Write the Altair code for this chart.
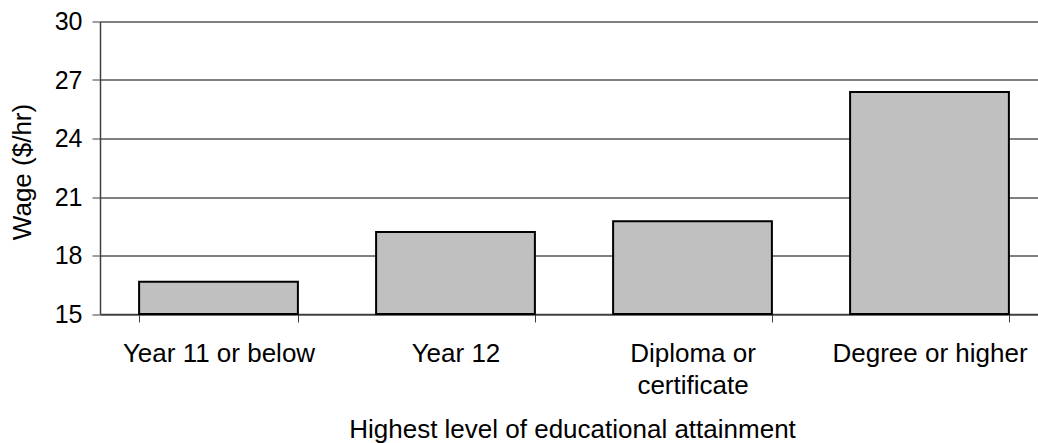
import altair as alt
import pandas as pd

categories = ["Year 11 or below", "Year 12", "Diploma or certificate", "Degree or higher"]
wages = [16.65, 19.21, 19.76, 26.38]
y_ticks = [15, 18, 21, 24, 27, 30]

df = pd.DataFrame({"cat": categories, "wage": wages})

FONT = "Liberation Sans"

bars = alt.Chart(df).mark_bar(fill="#c0c0c0", stroke="black", strokeWidth=2).encode(
    x=alt.X(
        "cat:N",
        sort=categories,
        scale=alt.Scale(range=[0, 948], paddingInner=0.33, paddingOuter=0.165),
        axis=alt.Axis(
            title="Highest level of educational attainment",
            labelAngle=0,
            tickBand="extent",
            labelExpr="datum.label == 'Diploma or certificate' ? ['Diploma or', 'certificate'] : datum.label",
            labelFontSize=26,
            labelLineHeight=32,
            labelPadding=18,
            labelLimit=0,
            labelColor="black",
            labelFont=FONT,
            tickSize=8,
            tickColor="#404040",
            domainColor="#404040",
            domainWidth=1.5,
            titleFontSize=26,
            titleFont=FONT,
            titleFontWeight="normal",
            titleColor="black",
            titleX=472,
            titleY=115,
            titleBaseline="middle",
            grid=False,
        ),
    ),
    y=alt.Y(
        "wage:Q",
        scale=alt.Scale(domain=[15, 30], nice=False, zero=False),
        axis=alt.Axis(
            title="Wage ($/hr)",
            values=y_ticks,
            labelFontSize=25,
            labelFont=FONT,
            labelColor="black",
            labelPadding=10,
            tickSize=8,
            tickColor="#404040",
            domainColor="#404040",
            domainWidth=1.5,
            grid=True,
            gridColor=alt.condition("datum.value == 30", alt.value("#808080"), alt.value("black")),
            gridWidth=alt.condition("datum.value == 30", alt.value(2), alt.value(1)),
            titleFontSize=26,
            titleFont=FONT,
            titleFontWeight="normal",
            titleColor="black",
            titleAngle=270,
            titleX=-78,
            titleY=150,
            titleBaseline="middle",
        ),
    ),
    y2=alt.datum(15),
)

chart = bars.properties(
    width=938,
    height=292.5,
    autosize=alt.AutoSizeParams(type="none"),
    padding={"left": 100, "top": 21.5, "right": 0, "bottom": 129},
).configure_view(stroke=None)

chart.save("out.html", embed_options={"renderer": "svg", "actions": False})
